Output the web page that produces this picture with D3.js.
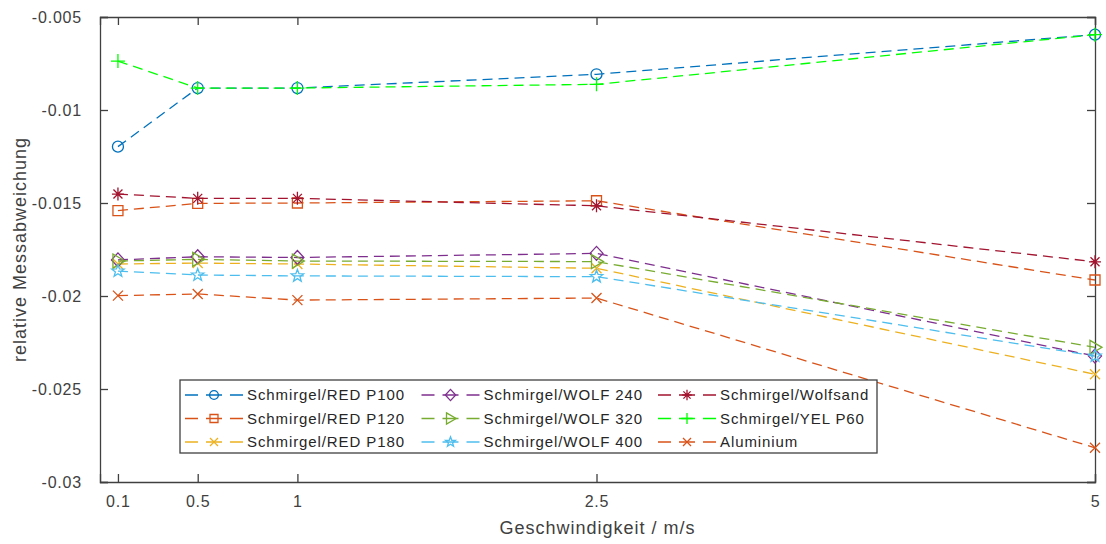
<!DOCTYPE html>
<html>
<head>
<meta charset="utf-8">
<script src="https://cdn.jsdelivr.net/npm/d3@7"></script>
<style>
  body { margin: 0; background: #fff; }
  svg { font-family: "Liberation Sans", Arial, sans-serif; }
</style>
</head>
<body>
<div id="chart"></div>
<script>
// speeds in m/s
const speeds = [0.1, 0.5, 1, 2.5, 5];
const xTickLabels = ['0.1', '0.5', '1', '2.5', '5'];
const yTicks = [-0.03, -0.025, -0.02, -0.015, -0.01, -0.005];

const seriesNames = [
  'Schmirgel/RED P100', 'Schmirgel/RED P120', 'Schmirgel/RED P180',
  'Schmirgel/WOLF 240', 'Schmirgel/WOLF 320', 'Schmirgel/WOLF 400',
  'Schmirgel/Wolfsand', 'Schmirgel/YEL P60', 'Aluminium'
];
const seriesColors = ['#0072BD', '#D95319', '#EDB120', '#7E2F8E', '#77AC30', '#4DBEEE', '#A2142F', '#00FF00', '#D95319'];
const seriesMarkers = ['circle', 'square', 'x', 'diamond', 'triangle', 'star', 'asterisk', 'plus', 'x'];

const redP100 = [-0.01197, -0.00882, -0.00882, -0.00808, -0.00595];
const redP120 = [-0.01541, -0.01502, -0.01500, -0.01488, -0.01914];
const redP180 = [-0.01828, -0.01823, -0.01828, -0.01851, -0.02421];
const wolf240 = [-0.01806, -0.01789, -0.01793, -0.01771, -0.02323];
const wolf320 = [-0.01812, -0.01803, -0.01812, -0.01815, -0.02276];
const wolf400 = [-0.01866, -0.01887, -0.01892, -0.01896, -0.02323];
const wolfsand = [-0.01452, -0.01475, -0.01475, -0.01515, -0.01816];
const yelP60 = [-0.00737, -0.00882, -0.00882, -0.00862, -0.00595];
const aluminium = [-0.01998, -0.01989, -0.02022, -0.02011, -0.02816];

const seriesValues = [redP100, redP120, redP180, wolf240, wolf320, wolf400, wolfsand, yelP60, aluminium];

const width = 1106, height = 544;
const margin = {top: 17, right: 11, bottom: 62, left: 100};

const svg = d3.select('#chart').append('svg')
    .attr('width', width)
    .attr('height', height);

const x = d3.scaleLinear()
    .domain([0.01, 5])
    .range([margin.left, width - margin.right]);

const y = d3.scaleLinear()
    .domain([-0.03, -0.005])
    .range([height - margin.bottom, margin.top]);

const axisColor = '#404040';

// marker shapes, drawn as outlines round (0,0); k scales them
function markerPath(type, k) {
  k = k || 1;
  const p = d3.path();
  if (type === 'circle') {
    p.arc(0, 0, 5.5 * k, 0, 2 * Math.PI);
  } else if (type === 'square') {
    p.rect(-5 * k, -5 * k, 10 * k, 10 * k);
  } else if (type === 'diamond') {
    p.moveTo(0, -7 * k); p.lineTo(6.5 * k, 0); p.lineTo(0, 7 * k); p.lineTo(-6.5 * k, 0); p.closePath();
  } else if (type === 'triangle') {
    p.moveTo(-5 * k, -7 * k); p.lineTo(7 * k, 0); p.lineTo(-5 * k, 7 * k); p.closePath();
  } else if (type === 'x') {
    p.moveTo(-5 * k, -5 * k); p.lineTo(5 * k, 5 * k); p.moveTo(-5 * k, 5 * k); p.lineTo(5 * k, -5 * k);
  } else if (type === 'plus') {
    p.moveTo(-7 * k, 0); p.lineTo(7 * k, 0); p.moveTo(0, -7 * k); p.lineTo(0, 7 * k);
  } else if (type === 'asterisk') {
    p.moveTo(-6 * k, 0); p.lineTo(6 * k, 0); p.moveTo(0, -6.5 * k); p.lineTo(0, 6.5 * k);
    p.moveTo(-4.5 * k, -4.5 * k); p.lineTo(4.5 * k, 4.5 * k); p.moveTo(-4.5 * k, 4.5 * k); p.lineTo(4.5 * k, -4.5 * k);
  } else if (type === 'star') {
    const outer = 6.5 * k, inner = 2.7 * k;
    for (let j = 0; j < 10; j++) {
      const r = j % 2 === 0 ? outer : inner;
      const a = -Math.PI / 2 + j * Math.PI / 5;
      if (j === 0) p.moveTo(r * Math.cos(a), r * Math.sin(a));
      else p.lineTo(r * Math.cos(a), r * Math.sin(a));
    }
    p.closePath();
  }
  return p.toString();
}

// axes box with inward ticks on all four sides
const xAxisBottom = d3.axisBottom(x).tickValues(speeds).tickFormat((d, i) => xTickLabels[i]).tickSize(-8).tickPadding(14);
const xAxisTop = d3.axisTop(x).tickValues(speeds).tickFormat('').tickSize(-8);
const yAxisLeft = d3.axisLeft(y).tickValues(yTicks).tickFormat(d => String(+d.toFixed(3))).tickSize(-8).tickPadding(18);
const yAxisRight = d3.axisRight(y).tickValues(yTicks).tickFormat('').tickSize(-8);

svg.append('g')
    .attr('transform', 'translate(0,' + (height - margin.bottom) + ')')
    .call(xAxisBottom);
svg.append('g')
    .attr('transform', 'translate(0,' + margin.top + ')')
    .call(xAxisTop);
svg.append('g')
    .attr('transform', 'translate(' + margin.left + ',0)')
    .call(yAxisLeft);
svg.append('g')
    .attr('transform', 'translate(' + (width - margin.right) + ',0)')
    .call(yAxisRight);

svg.selectAll('.domain').attr('stroke', axisColor).attr('stroke-width', 1.3);
svg.selectAll('.tick line').attr('stroke', axisColor).attr('stroke-width', 1.3);
svg.selectAll('.tick text')
    .attr('fill', axisColor)
    .attr('font-size', '16px')
    .attr('letter-spacing', '0.8px')
    .attr('font-family', '"Liberation Sans", Arial, sans-serif');

// series lines and markers
const line = d3.line()
    .x((d, i) => x(speeds[i]))
    .y(d => y(d));

seriesValues.forEach(function(values, s) {
  svg.append('path')
      .datum(values)
      .attr('fill', 'none')
      .attr('stroke', seriesColors[s])
      .attr('stroke-width', 1.3)
      .attr('stroke-dasharray', '10,6')
      .attr('d', line);

  svg.append('g').selectAll('path')
      .data(values)
    .join('path')
      .attr('transform', (d, i) => 'translate(' + x(speeds[i]) + ',' + y(d) + ')')
      .attr('d', markerPath(seriesMarkers[s]))
      .attr('fill', 'none')
      .attr('stroke', seriesColors[s])
      .attr('stroke-width', 1.3);
});

// axis titles
svg.append('text')
    .attr('x', (margin.left + width - margin.right) / 2)
    .attr('y', 534)
    .attr('text-anchor', 'middle')
    .attr('fill', axisColor)
    .attr('font-size', '18px')
    .attr('letter-spacing', '1px')
    .text('Geschwindigkeit / m/s');

svg.append('text')
    .attr('transform', 'translate(26,' + ((margin.top + height - margin.bottom) / 2) + ') rotate(-90)')
    .attr('text-anchor', 'middle')
    .attr('fill', axisColor)
    .attr('font-size', '18px')
    .attr('letter-spacing', '1px')
    .text('relative Messabweichung');

// legend, three rows, filled column by column
const legend = svg.append('g').attr('transform', 'translate(180,380)');
legend.append('rect')
    .attr('width', 697)
    .attr('height', 73)
    .attr('fill', '#fff')
    .attr('stroke', axisColor)
    .attr('stroke-width', 1.3);

seriesNames.forEach(function(name, s) {
  const col = Math.floor(s / 3), row = s % 3;
  const item = legend.append('g')
      .attr('transform', 'translate(' + (5 + col * 236.5) + ',' + (15 + row * 23.5) + ')');
  item.append('line')
      .attr('x1', 0).attr('x2', 58)
      .attr('stroke', seriesColors[s])
      .attr('stroke-width', 1.3)
      .attr('stroke-dasharray', '13,8,16,8,13');
  item.append('path')
      .attr('transform', 'translate(29,0)')
      .attr('d', markerPath(seriesMarkers[s], 0.8))
      .attr('fill', 'none')
      .attr('stroke', seriesColors[s])
      .attr('stroke-width', 1.3);
  item.append('text')
      .attr('x', 62)
      .attr('dy', '0.35em')
      .attr('fill', '#262626')
      .attr('font-size', '15px')
      .attr('letter-spacing', '0.9px')
      .text(name);
});
</script>
</body>
</html>
